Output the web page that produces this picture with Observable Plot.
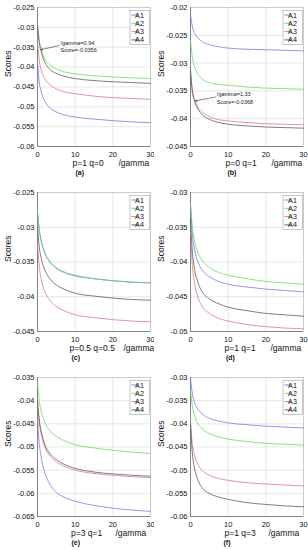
<!DOCTYPE html>
<html>
<head>
<meta charset="utf-8">
<script src="https://cdn.jsdelivr.net/npm/d3@7"></script>
<script src="https://cdn.jsdelivr.net/npm/@observablehq/plot@0.6"></script>
<style>
  html, body { margin: 0; padding: 0; background: #fff; overflow: hidden; }
  #root { position: relative; width: 308px; height: 550px; overflow: hidden; background: #fff; }
  .panel { position: absolute; width: 154px; height: 185px; }
</style>
</head>
<body>
<div id="root"></div>
<script>
// ---- data ----
const gamma = [0, 0.5, 1, 2, 3, 5, 7, 10, 15, 20, 25, 30];
const seriesNames = ["A1", "A2", "A3", "A4"];
const seriesColors = ["#7474e2", "#62d862", "#e07272", "#555555"];

const aA1 = [-0.0387,-0.0440,-0.0463,-0.0487,-0.0500,-0.0513,-0.0520,-0.0526,-0.0531,-0.0535,-0.0538,-0.0540];
const aA2 = [-0.0292,-0.0335,-0.0356,-0.0380,-0.0393,-0.0405,-0.0412,-0.0417,-0.0422,-0.0425,-0.0427,-0.0429];
const aA3 = [-0.0336,-0.0385,-0.0408,-0.0430,-0.0442,-0.0455,-0.0462,-0.0467,-0.0473,-0.0477,-0.0479,-0.0481];
const aA4 = [-0.0295,-0.0340,-0.0362,-0.0389,-0.0403,-0.0416,-0.0423,-0.0429,-0.0434,-0.0437,-0.0439,-0.0441];

const bA1 = [-0.0212,-0.0235,-0.0245,-0.0255,-0.0261,-0.0267,-0.0270,-0.0273,-0.0275,-0.0276,-0.0277,-0.0278];
const bA2 = [-0.0259,-0.0290,-0.0305,-0.0320,-0.0328,-0.0335,-0.0338,-0.0340,-0.0343,-0.0345,-0.0346,-0.0347];
const bA3 = [-0.0313,-0.0348,-0.0363,-0.0379,-0.0387,-0.0396,-0.0401,-0.0404,-0.0407,-0.0409,-0.0410,-0.0411];
const bA4 = [-0.0315,-0.0352,-0.0367,-0.0383,-0.0392,-0.0401,-0.0406,-0.0410,-0.0413,-0.0415,-0.0416,-0.0417];

const cA1 = [-0.0278,-0.0305,-0.0320,-0.0338,-0.0348,-0.0359,-0.0365,-0.0370,-0.0374,-0.0377,-0.0379,-0.0380];
const cA2 = [-0.0277,-0.0304,-0.0319,-0.0337,-0.0347,-0.0358,-0.0364,-0.0369,-0.0374,-0.0377,-0.0379,-0.0380];
const cA3 = [-0.0325,-0.0358,-0.0375,-0.0393,-0.0403,-0.0414,-0.0420,-0.0426,-0.0430,-0.0433,-0.0435,-0.0436];
const cA4 = [-0.0300,-0.0330,-0.0345,-0.0362,-0.0372,-0.0383,-0.0389,-0.0395,-0.0399,-0.0402,-0.0404,-0.0405];

const dA1 = [-0.0318,-0.0360,-0.0380,-0.0400,-0.0411,-0.0421,-0.0427,-0.0432,-0.0436,-0.0439,-0.0441,-0.0443];
const dA2 = [-0.0316,-0.0350,-0.0368,-0.0387,-0.0397,-0.0408,-0.0414,-0.0419,-0.0424,-0.0428,-0.0430,-0.0432];
const dA3 = [-0.0356,-0.0405,-0.0428,-0.0451,-0.0463,-0.0474,-0.0480,-0.0485,-0.0490,-0.0493,-0.0495,-0.0496];
const dA4 = [-0.0338,-0.0385,-0.0408,-0.0430,-0.0442,-0.0453,-0.0459,-0.0465,-0.0470,-0.0474,-0.0476,-0.0478];

const eA1 = [-0.0440,-0.0495,-0.0523,-0.0557,-0.0576,-0.0598,-0.0608,-0.0617,-0.0626,-0.0632,-0.0636,-0.0639];
const eA2 = [-0.0360,-0.0402,-0.0423,-0.0448,-0.0462,-0.0477,-0.0486,-0.0495,-0.0502,-0.0507,-0.0511,-0.0514];
const eA3 = [-0.0402,-0.0448,-0.0472,-0.0501,-0.0516,-0.0532,-0.0541,-0.0550,-0.0557,-0.0561,-0.0564,-0.0566];
const eA4 = [-0.0400,-0.0444,-0.0467,-0.0496,-0.0511,-0.0527,-0.0537,-0.0546,-0.0554,-0.0558,-0.0561,-0.0563];

const fA1 = [-0.0302,-0.0335,-0.0352,-0.0369,-0.0378,-0.0388,-0.0393,-0.0398,-0.0402,-0.0405,-0.0407,-0.0409];
const fA2 = [-0.0325,-0.0362,-0.0380,-0.0400,-0.0410,-0.0421,-0.0427,-0.0433,-0.0438,-0.0442,-0.0444,-0.0446];
const fA3 = [-0.0398,-0.0445,-0.0466,-0.0488,-0.0500,-0.0511,-0.0517,-0.0522,-0.0527,-0.0530,-0.0532,-0.0534];
const fA4 = [-0.0400,-0.0465,-0.0493,-0.0522,-0.0537,-0.0550,-0.0557,-0.0563,-0.0570,-0.0574,-0.0577,-0.0579];

const xTicks = [0, 10, 20, 30];
const yTicksA = [-0.06,-0.055,-0.05,-0.045,-0.04,-0.035,-0.03,-0.025];
const yTicksB = [-0.045,-0.04,-0.035,-0.03,-0.025,-0.02];
const yTicksC = [-0.045,-0.04,-0.035,-0.03,-0.025];
const yTicksD = [-0.05,-0.045,-0.04,-0.035,-0.03];
const yTicksE = [-0.065,-0.06,-0.055,-0.05,-0.045,-0.04,-0.035];
const yTicksF = [-0.06,-0.055,-0.05,-0.045,-0.04,-0.035,-0.03];

const xLabels = ["p=1 q=0", "p=0 q=1", "p=0.5 q=0.5", "p=1 q=1", "p=3 q=1", "p=1 q=3"];
const captions = ["(a)", "(b)", "(c)", "(d)", "(e)", "(f)"];

// annotations: data point, and where the label sits
const annotA = [{g: 0.94, s: -0.0356, tg: 5.7, ts: -0.0346, label: "/gamma=0.94\nScore=-0.0356"}];
const annotB = [{g: 1.33, s: -0.0368, tg: 6.6, ts: -0.0361, label: "/gamma=1.33\nScore=-0.0368"}];

// ---- layout ----
const FONT = "'Liberation Sans', Arial, Helvetica, sans-serif";
const panels = [
  {series: [aA1,aA2,aA3,aA4], ticks: yTicksA, annot: annotA, xl: 35, gl: 81, cl: 38},
  {series: [bA1,bA2,bA3,bA4], ticks: yTicksB, annot: annotB, xl: 35, gl: 81, cl: 37},
  {series: [cA1,cA2,cA3,cA4], ticks: yTicksC, annot: null, xl: 32, gl: 86, cl: 34},
  {series: [dA1,dA2,dA3,dA4], ticks: yTicksD, annot: null, xl: 34, gl: 80, cl: 35.5},
  {series: [eA1,eA2,eA3,eA4], ticks: yTicksE, annot: null, xl: 33.5, gl: 78, cl: 34},
  {series: [fA1,fA2,fA3,fA4], ticks: yTicksF, annot: null, xl: 34, gl: 78, cl: 33}
];

const W = 154, H = 185, MT = 7, MB = 39;
const fmt = d => String(Math.round(d * 1000) / 1000);
const root = document.getElementById("root");

panels.forEach((p, i) => {
  const col = i % 2, row = Math.floor(i / 2);
  const ml = col === 0 ? 37 : 36, mr = col === 0 ? 4 : 5;
  const yDomain = [p.ticks[0], p.ticks[p.ticks.length - 1]];
  const marks = [
    Plot.frame({stroke: "#c4c4c4", strokeWidth: 0.8}),
    Plot.ruleX([xTicks[0]], {stroke: "#7a7a7a", strokeWidth: 0.9}),
    Plot.ruleY([yDomain[0]], {stroke: "#7a7a7a", strokeWidth: 0.9}),
    ...p.series.map((s, k) => Plot.line(gamma.map((g, j) => ({g, v: s[j]})), {
      x: "g", y: "v", stroke: seriesColors[k], strokeWidth: 0.85, strokeOpacity: 0.9, curve: "monotone-x"
    })),
    Plot.text([xLabels[i]], {text: d => d, frameAnchor: "bottom-left", dx: p.xl, dy: 19.5, fontSize: 8.5, fill: "#111"}),
    Plot.text(["/gamma"], {text: d => d, frameAnchor: "bottom-left", dx: p.gl, dy: 19.5, fontSize: 8.5, fill: "#111"}),
    Plot.text([captions[i]], {text: d => d, frameAnchor: "bottom-left", dx: p.cl, dy: 28, fontSize: 7, fontWeight: "bold", fill: "#111"}),
    Plot.text(["Scores"], {text: d => d, frameAnchor: "left", rotate: -90, dx: -29, fontSize: 8.5, fill: "#111"})
  ];
  if (p.annot) {
    marks.push(Plot.arrow(p.annot, {x1: "tg", y1: "ts", x2: "g", y2: "s", stroke: "#333", strokeWidth: 0.6, headLength: 4, headAngle: 50}));
    marks.push(Plot.text(p.annot, {x: "tg", y: "ts", text: "label", textAnchor: "start", dx: 1.5, dy: 0.5, fontSize: 5.5, lineHeight: 1.35, fill: "#222"}));
  }
  const svg = Plot.plot({
    width: W, height: H,
    marginLeft: ml, marginRight: mr, marginTop: MT, marginBottom: MB,
    style: {fontFamily: FONT, fontSize: "7.5px", color: "#111", background: "white", overflow: "visible"},
    x: {domain: [0, 30], ticks: xTicks, tickFormat: fmt, grid: true, label: null, tickSize: 0, tickPadding: 5},
    y: {domain: yDomain, ticks: p.ticks, tickFormat: fmt, grid: true, label: null, tickSize: 0, tickPadding: 3},
    marks
  });
  // legend box (top-right inside frame)
  const fr = W - mr, ft = MT;
  const g = d3.select(svg).append("g").attr("font-family", FONT).attr("font-size", 7.2);
  g.append("rect").attr("x", fr - 20).attr("y", ft + 3.5).attr("width", 19.5).attr("height", 34)
    .attr("fill", "white").attr("stroke", "#a0a0a0").attr("stroke-width", 0.6);
  seriesNames.forEach((n, k) => {
    const yy = ft + 8 + k * 8.3;
    g.append("line").attr("x1", fr - 18.5).attr("x2", fr - 12).attr("y1", yy).attr("y2", yy)
      .attr("stroke", seriesColors[k]).attr("stroke-width", 0.9);
    g.append("text").attr("x", fr - 10.5).attr("y", yy).attr("dy", "0.35em").attr("fill", "#111").text(n);
  });
  const div = document.createElement("div");
  div.className = "panel";
  div.style.left = (col * 154) + "px";
  div.style.top = (row * 185) + "px";
  div.appendChild(svg);
  root.appendChild(div);
});
</script>
</body>
</html>
